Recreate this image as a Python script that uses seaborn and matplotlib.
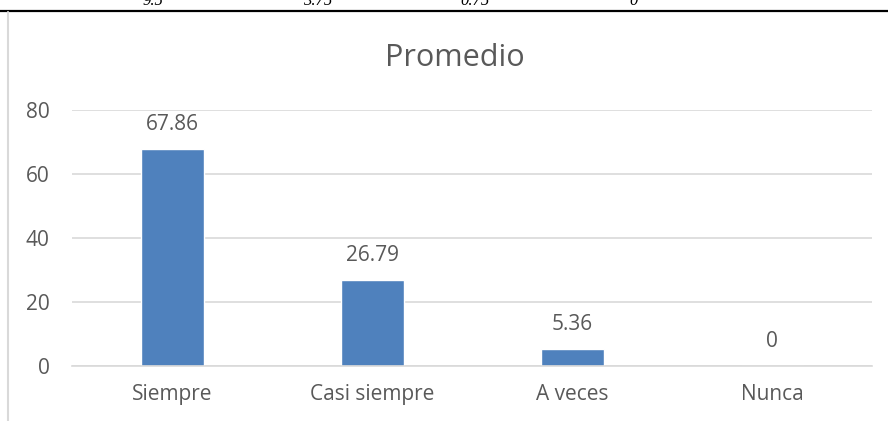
import matplotlib
matplotlib.use("Agg")
import matplotlib.pyplot as plt
from matplotlib.lines import Line2D
import seaborn as sns
import pandas as pd

categories = ["Siempre", "Casi siempre", "A veces", "Nunca"]
values = [67.86, 26.79, 5.36, 0]
value_labels = ["67.86", "26.79", "5.36", "0"]
y_ticks = [0, 20, 40, 60, 80]
top_cut_texts = ["9.5", "3.75", "0.75", "0"]
top_cut_x = [153, 318, 475, 634]

sns.set_theme(style="white")
plt.rcParams["font.family"] = ["Open Sans", "DejaVu Sans"]

TXT = "#595959"
BAR = "#4f81bd"
GRID = "#d9d9d9"

W, H = 888, 421
fig = plt.figure(figsize=(W / 100, H / 100), dpi=100)
ax = fig.add_axes([72 / W, 1 - 366 / H, 800 / W, 256 / H])

df = pd.DataFrame({"cat": categories, "val": values})
sns.barplot(data=df, x="cat", y="val", color=BAR, saturation=1, width=0.315, ax=ax)

ax.set_ylim(0, 80)
ax.set_xlim(-0.5, len(categories) - 0.5)
ax.set_yticks(y_ticks)
ax.set_yticklabels([str(t) for t in y_ticks])
ax.yaxis.grid(True, color=GRID, linewidth=1.2)
ax.set_axisbelow(True)
for s in ["top", "right", "left"]:
    ax.spines[s].set_visible(False)
ax.spines["bottom"].set_color(GRID)
ax.spines["bottom"].set_linewidth(1.2)
ax.set_xlabel("")
ax.set_ylabel("")
ax.tick_params(axis="y", length=0, pad=16, labelsize=15, labelcolor=TXT)
ax.tick_params(axis="x", length=0, pad=13, labelsize=15, labelcolor=TXT)

for i, (v, lab) in enumerate(zip(values, value_labels)):
    ax.annotate(lab, (i, v), xytext=(0, 17.5), textcoords="offset points",
                ha="center", va="center", fontsize=15, color=TXT)

fig.text(455 / W, 1 - 66 / H, "Promedio", ha="center", va="baseline",
         fontsize=22, color=TXT)

# cropped text row at the top of the page
for x, t in zip(top_cut_x, top_cut_texts):
    fig.text(x / W, 1 - 5 / H, t, ha="center", va="baseline",
             fontsize=12, family="Liberation Serif", style="italic", color="black")

fig.add_artist(Line2D([0, 1], [1 - 11 / H, 1 - 11 / H], transform=fig.transFigure,
                      color="black", linewidth=1.6))
fig.add_artist(Line2D([8 / W, 8 / W], [0, 1 - 12 / H], transform=fig.transFigure,
                      color=GRID, linewidth=1.5))

fig.savefig("out.png", dpi=100)
